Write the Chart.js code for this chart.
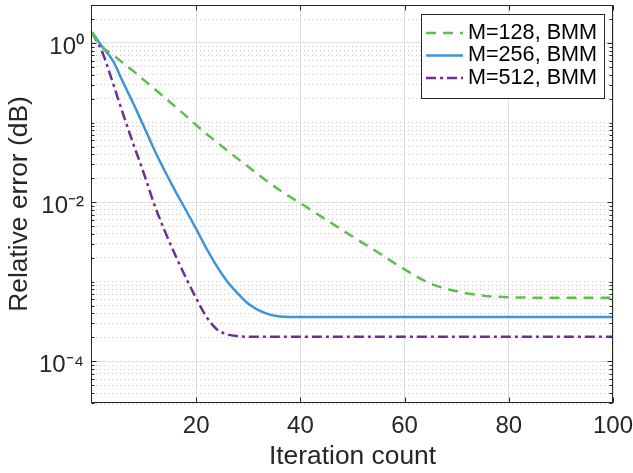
<!DOCTYPE html>
<html>
<head>
<meta charset="utf-8">
<script src="https://cdn.jsdelivr.net/npm/chart.js@4.4.0/dist/chart.umd.min.js"></script>
<style>
html, body { margin: 0; padding: 0; background: #fff; }
#wrap { width: 633px; height: 473px; }
</style>
</head>
<body>
<div id="wrap"><canvas id="err-chart" width="633" height="473"></canvas></div>
<script>
// 迭代次数 (横轴)
const iterations = [0, 2, 4, 6, 8, 10, 12, 14, 16, 18, 20, 22, 24, 26, 28, 30, 33, 36, 40, 45, 50, 55, 60, 65, 70, 75, 80, 90, 100];

// 各曲线相对误差
const errM128 = [1.36, 0.89, 0.71, 0.56, 0.44, 0.34, 0.265, 0.205, 0.158, 0.122, 0.093, 0.072, 0.0565, 0.0443, 0.035, 0.0278,
    0.0197, 0.0142, 0.0097, 0.006, 0.0037, 0.00232, 0.00143, 0.00095, 0.00076, 0.00067, 0.00064, 0.00063, 0.00063];
const errM256 = [1.36, 0.89, 0.6, 0.316, 0.17, 0.088, 0.045, 0.0245, 0.0138, 0.008, 0.0046, 0.0026, 0.00155, 0.001, 0.00071, 0.00053,
    0.00041, 0.000367, 0.00036, 0.00036, 0.00036, 0.00036, 0.00036, 0.00036, 0.00036, 0.00036, 0.00036, 0.00036, 0.00036];
const errM512 = [1.36, 0.76, 0.316, 0.126, 0.0525, 0.0225, 0.0092, 0.0043, 0.00215, 0.00113, 0.00062, 0.00036, 0.000252, 0.000218, 0.000207, 0.000204,
    0.000204, 0.000204, 0.000204, 0.000204, 0.000204, 0.000204, 0.000204, 0.000204, 0.000204, 0.000204, 0.000204, 0.000204, 0.000204];

const seriesLabels = ['M=128, BMM', 'M=256, BMM', 'M=512, BMM'];

// 刻度
const xTickValues = [20, 40, 60, 80, 100];
const yLabelExponents = [0, -2, -4];
const yMin = 3e-5;
const yMax = 3;

const textColor = '#262626';
const fontFamily = '"Liberation Sans", Arial, Helvetica, sans-serif';
Chart.defaults.font.family = fontFamily;
Chart.defaults.color = textColor;

const supDigits = { '0': '⁰', '1': '¹', '2': '²', '3': '³', '4': '⁴', '5': '⁵', '6': '⁶', '7': '⁷', '8': '⁸', '9': '⁹', '-': '⁻' };

function expOf(v) {
    const e = Math.log10(v);
    return Math.abs(e - Math.round(e)) < 1e-6 ? Math.round(e) : null;
}

function isMajorY(v) {
    const e = expOf(v);
    return e !== null && yLabelExponents.includes(e);
}

// 对数轴所有 k*10^n 刻度
function buildLogTicks(min, max) {
    const ticks = [];
    for (let n = Math.floor(Math.log10(min)); n <= Math.ceil(Math.log10(max)); n++) {
        for (let k = 1; k <= 9; k++) {
            const v = parseFloat(k + 'e' + n);
            if (v >= min * 0.999 && v <= max * 1.001) ticks.push({ value: v });
        }
    }
    return ticks;
}

function toPoints(values) {
    return iterations.map((x, i) => ({ x: x, y: values[i] }));
}

// 坐标框与向内刻度
const axesBoxPlugin = {
    id: 'axesBox',
    afterDatasetsDraw(chart) {
        const { ctx, chartArea: a, scales } = chart;
        const l = Math.round(a.left) - 0.5;
        const r = Math.round(a.right) - 0.5;
        const t = Math.round(a.top) + 0.5;
        const b = Math.round(a.bottom) - 0.5;
        ctx.save();
        ctx.strokeStyle = textColor;
        ctx.lineWidth = 1;
        ctx.setLineDash([]);
        ctx.strokeRect(l, t, r - l, b - t);
        ctx.beginPath();
        scales.x.ticks.forEach(tk => {
            const px = Math.round(scales.x.getPixelForValue(tk.value)) + 0.5;
            ctx.moveTo(px, b); ctx.lineTo(px, b - 5);
            ctx.moveTo(px, t); ctx.lineTo(px, t + 5);
        });
        scales.y.ticks.forEach(tk => {
            const py = Math.round(scales.y.getPixelForValue(tk.value)) + 0.5;
            const len = isMajorY(tk.value) ? 5 : 3;
            ctx.moveTo(l, py); ctx.lineTo(l + len, py);
            ctx.moveTo(r, py); ctx.lineTo(r - len, py);
        });
        ctx.stroke();
        ctx.restore();
    }
};

// 图例 (右上角)
const legendBoxPlugin = {
    id: 'legendBox',
    afterDraw(chart) {
        const { ctx } = chart;
        const bx = 421.5, by = 14.5, bw = 183, bh = 84;
        ctx.save();
        ctx.fillStyle = '#fff';
        ctx.fillRect(bx, by, bw, bh);
        ctx.strokeStyle = textColor;
        ctx.lineWidth = 1;
        ctx.strokeRect(bx, by, bw, bh);
        chart.data.datasets.forEach((ds, i) => {
            const cy = 33 + i * 22.5;
            ctx.setLineDash(ds.borderDash || []);
            ctx.strokeStyle = ds.borderColor;
            ctx.lineWidth = ds.borderWidth;
            ctx.beginPath();
            ctx.moveTo(426, cy);
            ctx.lineTo(463, cy);
            ctx.stroke();
            ctx.setLineDash([]);
            ctx.fillStyle = '#000';
            ctx.font = '21.6px ' + fontFamily;
            ctx.textBaseline = 'middle';
            ctx.textAlign = 'left';
            ctx.fillText(ds.label, 468, cy);
        });
        ctx.restore();
    }
};

const ctx = document.getElementById('err-chart').getContext('2d');

window.errorChart = new Chart(ctx, {
    type: 'line',
    data: {
        datasets: [
            {
                label: seriesLabels[0],
                data: toPoints(errM128),
                borderColor: '#5cbf4f',
                borderWidth: 2.5,
                borderDash: [10, 7]
            },
            {
                label: seriesLabels[1],
                data: toPoints(errM256),
                borderColor: '#3d94d6',
                borderWidth: 2.5
            },
            {
                label: seriesLabels[2],
                data: toPoints(errM512),
                borderColor: '#6d2f95',
                borderWidth: 2.5,
                borderDash: [10, 4, 3, 4]
            }
        ]
    },
    options: {
        responsive: false,
        animation: false,
        layout: { padding: { left: 0, right: 20, top: 5, bottom: 0 } },
        elements: {
            point: { radius: 0 },
            line: { cubicInterpolationMode: 'monotone', fill: false }
        },
        scales: {
            x: {
                type: 'linear',
                min: 0,
                max: 100,
                afterBuildTicks: (scale) => { scale.ticks = xTickValues.map(v => ({ value: v })); },
                afterFit: (scale) => {
                    scale.height = 70;
                    scale.paddingLeft = 0;
                    scale.paddingRight = 0;
                },
                ticks: {
                    autoSkip: false,
                    maxRotation: 0,
                    padding: 9,
                    font: { size: 24 },
                    color: textColor,
                    callback: (v) => String(v)
                },
                grid: { drawTicks: false, color: '#e1e1e1', lineWidth: 1 },
                border: { display: false },
                title: {
                    display: true,
                    text: 'Iteration count',
                    font: { size: 26.4 },
                    color: textColor,
                    padding: { top: 0, bottom: 0 }
                }
            },
            y: {
                type: 'logarithmic',
                min: yMin,
                max: yMax,
                afterBuildTicks: (scale) => { scale.ticks = buildLogTicks(yMin, yMax); },
                afterFit: (scale) => {
                    scale.width = 92;
                    scale.paddingTop = 0;
                    scale.paddingBottom = 0;
                },
                ticks: {
                    autoSkip: false,
                    padding: 8,
                    labelOffset: 4,
                    font: { size: 24 },
                    color: textColor,
                    callback: function (value) {
                        if (!isMajorY(value)) return '';
                        const e = String(expOf(value)).split('').map(c => supDigits[c]).join('');
                        return '10' + e;
                    }
                },
                grid: {
                    drawTicks: false,
                    lineWidth: 1,
                    color: (c) => (c.tick && isMajorY(c.tick.value)) ? '#e1e1e1' : '#c8c8c8'
                },
                border: {
                    display: false,
                    dash: (c) => (c.tick && !isMajorY(c.tick.value)) ? [1, 3] : []
                },
                title: {
                    display: true,
                    text: 'Relative error (dB)',
                    font: { size: 26.4 },
                    color: textColor,
                    padding: { top: 4, bottom: 0 }
                }
            }
        },
        plugins: {
            legend: { display: false },
            tooltip: { enabled: false }
        }
    },
    plugins: [axesBoxPlugin, legendBoxPlugin]
});
</script>
</body>
</html>
